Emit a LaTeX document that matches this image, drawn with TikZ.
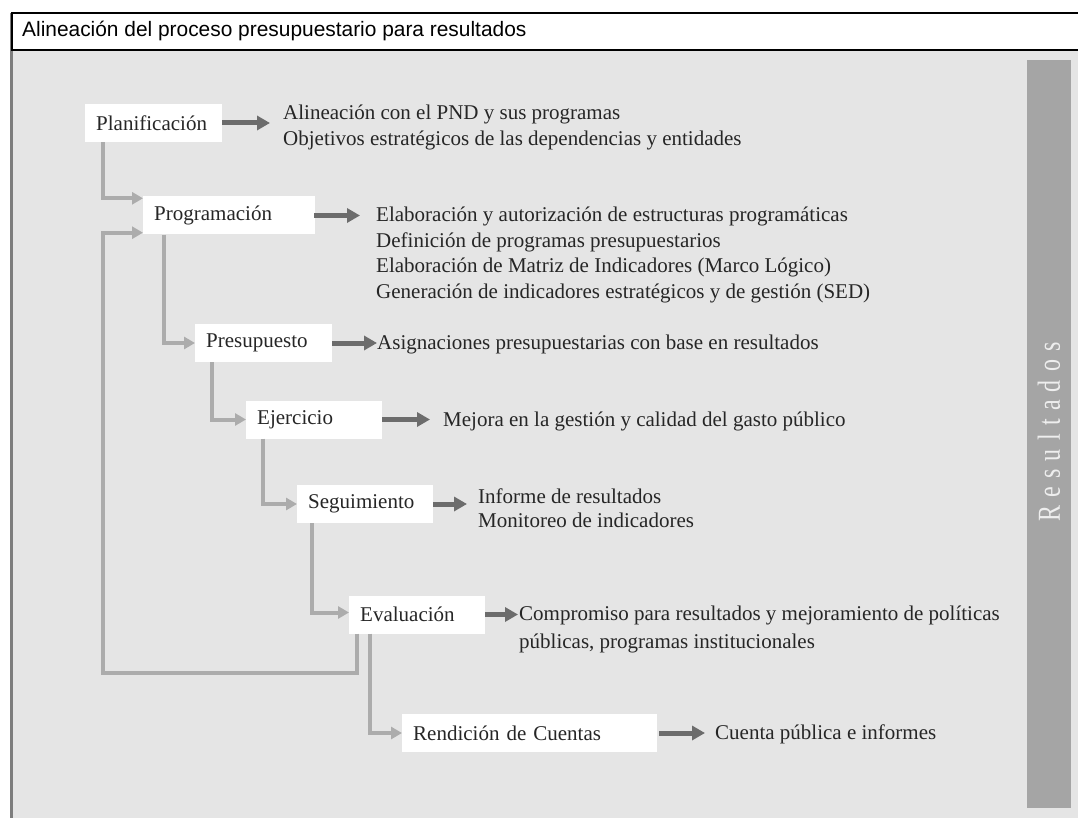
\documentclass[tikz,border=0pt]{standalone}
\usepackage{fontspec}
\setmainfont{Liberation Serif}
\setsansfont{Liberation Sans}
\usetikzlibrary{arrows.meta,calc}
\definecolor{panel}{RGB}{229,229,229}
\definecolor{barg}{RGB}{165,165,165}
\definecolor{lgray}{RGB}{172,172,172}
\definecolor{dgray}{RGB}{108,108,108}
\definecolor{frameg}{RGB}{125,125,125}
\definecolor{txt}{RGB}{38,38,38}
\definecolor{bartxt}{RGB}{238,238,238}
\begin{document}
\begin{tikzpicture}[x=1pt,y=-1pt,
  box/.style={fill=white, anchor=west, minimum height=38pt, inner xsep=11pt, inner ysep=0pt,
    align=left, font=\fontsize{21}{25}\selectfont, text=txt},
  desc/.style={anchor=base west, inner sep=0pt, align=left, text=txt},
  lt/.style={draw=lgray, line width=4pt, -{Triangle[length=11pt,width=12pt]}},
  dk/.style={draw=dgray, line width=5pt, -{Triangle[length=13pt,width=14pt]}},
]
\useasboundingbox (0,0) rectangle (1078,818);
\fill[white] (0,0) rectangle (1078,818);
% panel
\fill[panel] (12,50) rectangle (1080,820);
\draw[frameg, line width=3pt] (11,13) -- (11,820);
% title box
\draw[black, line width=1.6pt, fill=white] (12,13) rectangle (1085,50);
\node[anchor=west, inner sep=0pt, font=\sffamily\fontsize{20.9}{24}\selectfont, text=black] (title) at (22,31) {Alineación del proceso presupuestario para resultados};
% Resultados bar
\fill[barg] (1027,60) rectangle (1071,808);
\node[rotate=90, xscale=0.75, inner sep=0pt, text=bartxt, font=\fontsize{32}{34}\selectfont] (res) at (1049,432)
  {R\kern11pt e\kern11pt s\kern11pt u\kern11pt l\kern11pt t\kern11pt a\kern11pt d\kern11pt o\kern11pt s};
% boxes
\node[box, text width=115pt] (plan) at (85,123) {Planificación};
\node[box, text width=150pt] (prog) at (143,215.5) {Programación};
\node[box, text width=115pt] (pres) at (195,343) {Presupuesto};
\node[box, text width=114pt] (ejer) at (246,419.5) {Ejercicio};
\node[box, text width=114pt] (seg) at (297,504) {Seguimiento};
\node[box, text width=114pt] (eval) at (349,614.5) {Evaluación};
\node[box, text width=233pt] (rend) at (402,733) {Rendición de Cuentas};
% descriptions (anchored at the baseline of the last line)
\node[desc, font=\fontsize{21}{26}\selectfont] (ptext) at (283,146)
  {Alineación con el PND y sus programas\\Objetivos estratégicos de las dependencias y entidades};
\node[desc, font=\fontsize{21}{25.5}\selectfont] (prtext) at (376,298)
  {Elaboración y autorización de estructuras programáticas\\Definición de programas presupuestarios\\Elaboración de Matriz de Indicadores (Marco Lógico)\\Generación de indicadores estratégicos y de gestión (SED)};
\node[desc, font=\fontsize{21}{25}\selectfont] (pstext) at (377,349)
  {Asignaciones presupuestarias con base en resultados};
\node[desc, font=\fontsize{21}{25}\selectfont] (ejtext) at (443,426)
  {Mejora en la gestión y calidad del gasto público};
\node[desc, font=\fontsize{21}{24}\selectfont] (sgtext) at (478,527)
  {Informe de resultados\\Monitoreo de indicadores};
\node[desc, font=\fontsize{21}{28}\selectfont] (evtext) at (519,648)
  {Compromiso para resultados y mejoramiento de políticas\\públicas, programas institucionales};
\node[desc, font=\fontsize{21}{25}\selectfont] (rdtext) at (715,739)
  {Cuenta pública e informes};
% dark arrows
\draw[dk] (plan.east) -- ($(plan.east -| ptext.west)+(-13pt,0)$);
\draw[dk] ($(prog.east)+(-1pt,0)$) -- ($(prog.east -| prtext.west)+(-16pt,0)$);
\draw[dk] (pres.east) -- (pres.east -| pstext.west);
\draw[dk] (ejer.east) -- ($(ejer.east -| ejtext.west)+(-13pt,0)$);
\draw[dk] (seg.east) -- ($(seg.east -| sgtext.west)+(-11pt,0)$);
\draw[dk] (eval.east) -- ($(eval.east -| evtext.west)+(-1pt,0)$);
\draw[dk] ($(rend.east)+(2pt,0)$) -- ($(rend.east -| rdtext.west)+(-10pt,0)$);
% light connectors
\draw[lt] ([xshift=18pt]plan.south west) |- ([yshift=-2pt]prog.north west);
\draw[lt] ([xshift=21pt]prog.south west) |- (pres.west);
\draw[lt] ([xshift=17pt]pres.south west) |- (ejer.west);
\draw[lt] ([xshift=17pt]ejer.south west) |- (seg.west);
\draw[lt] ([xshift=15pt]seg.south west) |- ([yshift=2pt]eval.west);
\draw[lt] ([xshift=21pt]eval.south west) |- (rend.west);
\coordinate (loopc) at (103,673);
\draw[lt] ([xshift=8pt]eval.south west) |- (loopc) |- ([yshift=2pt]prog.south west);
\end{tikzpicture}
\end{document}
